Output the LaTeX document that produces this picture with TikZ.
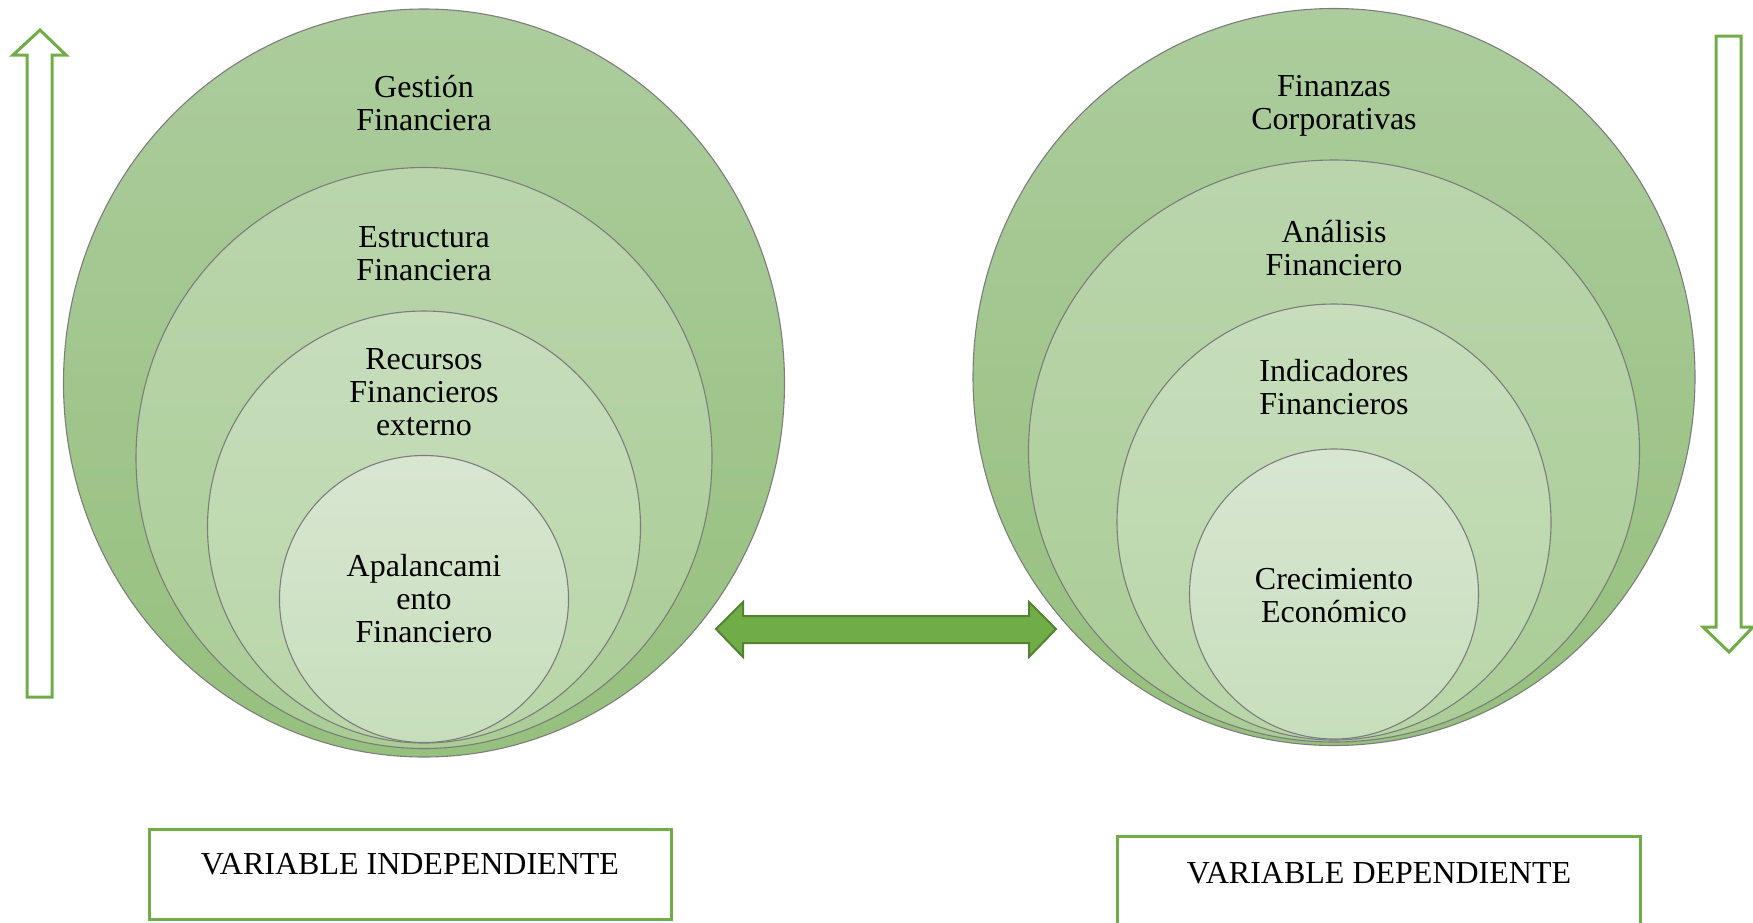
\documentclass[tikz,border=0pt]{standalone}
\usepackage{fontspec}
\setmainfont{Liberation Serif}
\usetikzlibrary{shapes.geometric}
\definecolor{arrowgreen}{RGB}{112,173,71}
\definecolor{arrowdark}{RGB}{84,130,53}
\definecolor{ringline}{RGB}{125,125,125}
\definecolor{ringAtop}{RGB}{172,204,157}
\definecolor{ringAbot}{RGB}{150,192,125}
\definecolor{ringBtop}{RGB}{186,213,172}
\definecolor{ringBbot}{RGB}{170,205,150}
\definecolor{ringCtop}{RGB}{199,221,188}
\definecolor{ringCbot}{RGB}{184,214,167}
\definecolor{ringDtop}{RGB}{216,230,209}
\definecolor{ringDbot}{RGB}{199,222,188}
\tikzset{
  ring/.style={ellipse, draw=ringline, line width=1.1pt, inner sep=0pt},
  ringA/.style={ring, top color=ringAtop, bottom color=ringAbot},
  ringB/.style={ring, top color=ringBtop, bottom color=ringBbot},
  ringC/.style={ring, top color=ringCtop, bottom color=ringCbot},
  ringD/.style={ring, top color=ringDtop, bottom color=ringDbot},
  label/.style={align=center, inner sep=0pt, font=\fontsize{32}{33}\selectfont},
  outlinearrow/.style={draw=arrowgreen, line width=3pt, line join=miter},
  varbox/.style={draw=arrowgreen, line width=3pt},
}
\begin{document}
\begin{tikzpicture}[x=1pt, y=-1pt]
\useasboundingbox (0,0) rectangle (1753,922);
\clip (0,0) rectangle (1753,922);

% left set of nested rings
\node[ringA, minimum width=721pt, minimum height=748pt] (L1) at (424,383) {};
\node[ringB, minimum width=576pt, minimum height=581pt] (L2) at (424,458) {};
\node[ringC, minimum width=433pt, minimum height=432pt] (L3) at (424,527) {};
\node[ringD, minimum width=289pt, minimum height=287pt] (L4) at (424,599) {};
\node[label] (tL1) at (424,103) {Gestión\\Financiera};
\node[label] (tL2) at (424,254) {Estructura\\Financiera};
\node[label] (tL3) at (424,392) {Recursos\\Financieros\\externo};
\node[label] (tL4) at (424,599) {Apalancami\\ento\\Financiero};

% right set of nested rings
\node[ringA, minimum width=722pt, minimum height=737pt] (R1) at (1334,377) {};
\node[ringB, minimum width=611pt, minimum height=582pt] (R2) at (1334,451) {};
\node[ringC, minimum width=434pt, minimum height=436pt] (R3) at (1334,522) {};
\node[ringD, minimum width=289pt, minimum height=290pt] (R4) at (1334,594) {};
\node[label] (tR1) at (1334,106) {Finanzas\\Corporativas};
\node[label] (tR2) at (1334,248) {Análisis\\Financiero};
\node[label] (tR3) at (1334,387) {Indicadores\\Financieros};
\node[label] (tR4) at (1334,596) {Crecimiento\\Económico};

% two-headed arrow between the sets
\draw[fill=arrowgreen, draw=arrowdark, line width=2pt, line join=miter]
  (716,629) -- (743,602) -- (743,616) -- (1029,616) -- (1029,602)
  -- (1056,629) -- (1029,657) -- (1029,643) -- (743,643) -- (743,657) -- cycle;

% upward outline arrow (left)
\draw[outlinearrow]
  (40,30) -- (66,55) -- (52,55) -- (52,697) -- (27,697) -- (27,55) -- (13,55) -- cycle;

% downward outline arrow (right)
\draw[outlinearrow]
  (1716,36) -- (1741,36) -- (1741,627) -- (1753,627) -- (1729,652)
  -- (1703,627) -- (1716,627) -- cycle;

% variable boxes
\draw[varbox] (149,829) rectangle (671,919);
\node[label] (vi) at (410,864) {VARIABLE INDEPENDIENTE};
\draw[varbox] (1117,836) rectangle (1640,940);
\node[label] (vd) at (1379,873) {VARIABLE DEPENDIENTE};
\end{tikzpicture}
\end{document}
